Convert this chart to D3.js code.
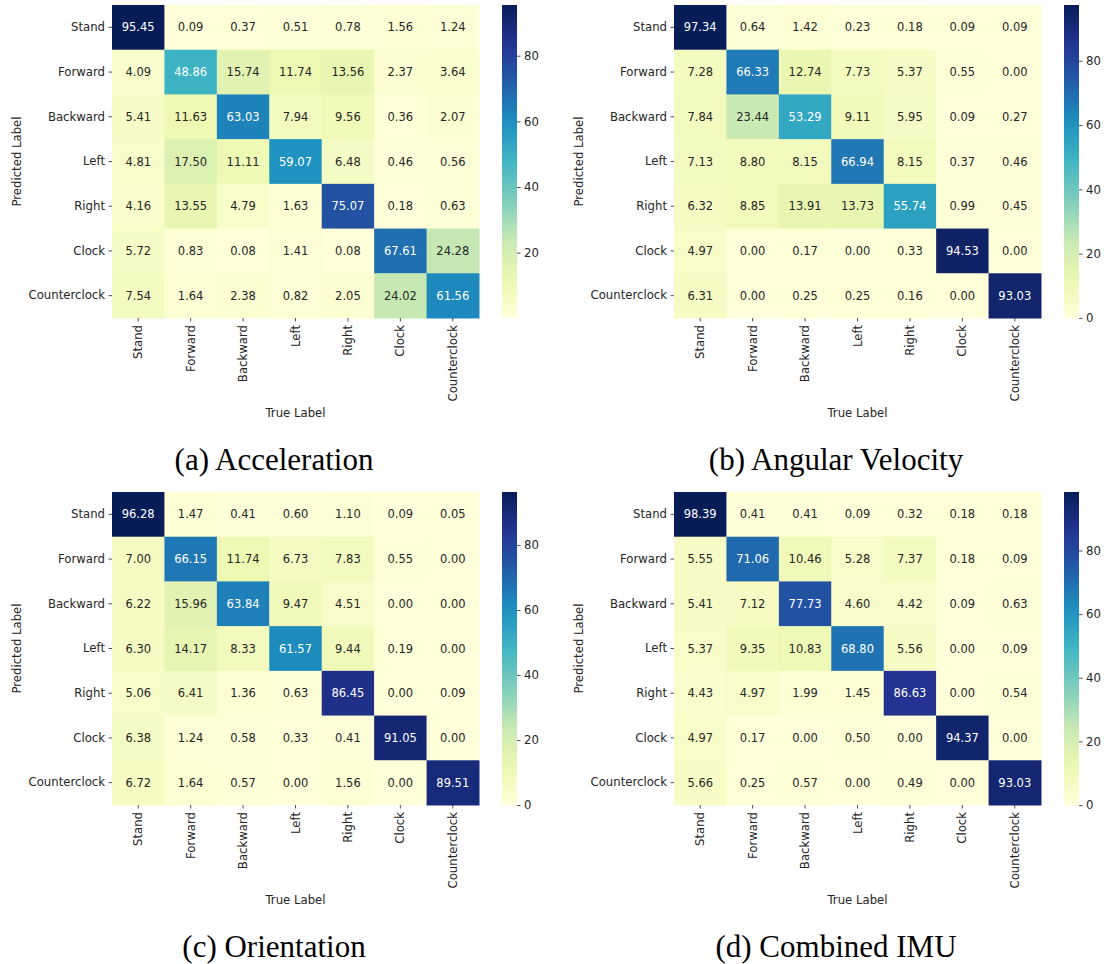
<!DOCTYPE html>
<html>
<head>
<meta charset="utf-8">
<script src="https://cdn.jsdelivr.net/npm/d3@7"></script>
<style>
  body { margin: 0; background: #fff; }
  text { font-family: "DejaVu Sans", sans-serif; fill: #262626; }
  .caption { font-family: "Liberation Serif", "DejaVu Serif", serif; fill: #000; }
</style>
</head>
<body>
<svg width="1107" height="964"></svg>
<script>
var width = 1107,
    height = 964;

// class names (rows = predicted, cols = true)
var classes = ["Stand", "Forward", "Backward", "Left", "Right", "Clock", "Counterclock"];

var accel = [
    [95.45, 0.09, 0.37, 0.51, 0.78, 1.56, 1.24],
    [4.09, 48.86, 15.74, 11.74, 13.56, 2.37, 3.64],
    [5.41, 11.63, 63.03, 7.94, 9.56, 0.36, 2.07],
    [4.81, 17.50, 11.11, 59.07, 6.48, 0.46, 0.56],
    [4.16, 13.55, 4.79, 1.63, 75.07, 0.18, 0.63],
    [5.72, 0.83, 0.08, 1.41, 0.08, 67.61, 24.28],
    [7.54, 1.64, 2.38, 0.82, 2.05, 24.02, 61.56]
];

var angular = [
    [97.34, 0.64, 1.42, 0.23, 0.18, 0.09, 0.09],
    [7.28, 66.33, 12.74, 7.73, 5.37, 0.55, 0.00],
    [7.84, 23.44, 53.29, 9.11, 5.95, 0.09, 0.27],
    [7.13, 8.80, 8.15, 66.94, 8.15, 0.37, 0.46],
    [6.32, 8.85, 13.91, 13.73, 55.74, 0.99, 0.45],
    [4.97, 0.00, 0.17, 0.00, 0.33, 94.53, 0.00],
    [6.31, 0.00, 0.25, 0.25, 0.16, 0.00, 93.03]
];

var orient = [
    [96.28, 1.47, 0.41, 0.60, 1.10, 0.09, 0.05],
    [7.00, 66.15, 11.74, 6.73, 7.83, 0.55, 0.00],
    [6.22, 15.96, 63.84, 9.47, 4.51, 0.00, 0.00],
    [6.30, 14.17, 8.33, 61.57, 9.44, 0.19, 0.00],
    [5.06, 6.41, 1.36, 0.63, 86.45, 0.00, 0.09],
    [6.38, 1.24, 0.58, 0.33, 0.41, 91.05, 0.00],
    [6.72, 1.64, 0.57, 0.00, 1.56, 0.00, 89.51]
];

var combined = [
    [98.39, 0.41, 0.41, 0.09, 0.32, 0.18, 0.18],
    [5.55, 71.06, 10.46, 5.28, 7.37, 0.18, 0.09],
    [5.41, 7.12, 77.73, 4.60, 4.42, 0.09, 0.63],
    [5.37, 9.35, 10.83, 68.80, 5.56, 0.00, 0.09],
    [4.43, 4.97, 1.99, 1.45, 86.63, 0.00, 0.54],
    [4.97, 0.17, 0.00, 0.50, 0.00, 94.37, 0.00],
    [5.66, 0.25, 0.57, 0.00, 0.49, 0.00, 93.03]
];

var captions = ["(a) Acceleration", "(b) Angular Velocity", "(c) Orientation", "(d) Combined IMU"];
var colorTicks = [0, 20, 40, 60, 80];

// matplotlib YlGnBu (linear between colorbrewer stops)
var ylgnbu = ["#ffffd9", "#edf8b1", "#c7e9b4", "#7fcdbb", "#41b6c4", "#1d91c0", "#225ea8", "#253494", "#081d58"];

var svg = d3.select("svg");

var panels = [
    {data: accel, dx: 0, dy: 0},
    {data: angular, dx: 562, dy: 0},
    {data: orient, dx: 0, dy: 487},
    {data: combined, dx: 562, dy: 487}
];

panels.forEach(function (p, i) {
    drawPanel(p.data, p.dx, p.dy, captions[i], i);
});

function drawPanel(matrix, dx, dy, caption, idx) {
    var g = svg.append("g").attr("transform", "translate(" + dx + "," + dy + ")");

    var left = 112, right = 479, top = 5, bottom = 318;

    var x = d3.scaleBand().domain(classes).range([left, right]);
    var y = d3.scaleBand().domain(classes).range([top, bottom]);

    var flat = d3.merge(matrix);
    var vmin = d3.min(flat), vmax = d3.max(flat);
    var t = d3.scaleLinear().domain([vmin, vmax]).range([0, 1]);
    var cmap = d3.scaleLinear()
        .domain(d3.range(ylgnbu.length).map(function (k) { return k / (ylgnbu.length - 1); }))
        .range(ylgnbu)
        .interpolate(d3.interpolateRgb);
    var color = function (v) { return cmap(t(v)); };

    var cells = [];
    matrix.forEach(function (row, r) {
        row.forEach(function (v, c) {
            cells.push({row: classes[r], col: classes[c], value: v});
        });
    });

    g.append("g")
        .selectAll("rect")
        .data(cells)
        .enter().append("rect")
        .attr("x", function (d) { return x(d.col); })
        .attr("y", function (d) { return y(d.row); })
        .attr("width", x.bandwidth() + 0.5)
        .attr("height", y.bandwidth() + 0.5)
        .style("fill", function (d) { return color(d.value); });

    g.append("g")
        .selectAll("text")
        .data(cells)
        .enter().append("text")
        .attr("x", function (d) { return x(d.col) + x.bandwidth() / 2; })
        .attr("y", function (d) { return y(d.row) + y.bandwidth() / 2; })
        .attr("text-anchor", "middle")
        .attr("dy", "0.35em")
        .style("font-size", "11.5px")
        .style("fill", function (d) {
            var c = d3.rgb(color(d.value));
            var lum = relLum(c);
            return lum > 0.408 ? "#262626" : "#ffffff";
        })
        .text(function (d) { return d.value.toFixed(2); });

    // axes
    var yAxis = g.append("g")
        .attr("transform", "translate(" + left + ",0)")
        .call(d3.axisLeft(y).tickSize(3.5).tickPadding(3.5));
    var xAxis = g.append("g")
        .attr("transform", "translate(0," + bottom + ")")
        .call(d3.axisBottom(x).tickSize(3.5).tickPadding(3.5));
    [xAxis, yAxis].forEach(function (a) {
        a.select(".domain").remove();
        a.selectAll(".tick line").attr("stroke", "#262626").attr("stroke-width", 0.8);
        a.selectAll(".tick text").style("font-size", "11.7px").style("font-family", "DejaVu Sans").attr("fill", "#262626");
    });
    xAxis.selectAll(".tick text")
        .attr("transform", "rotate(-90)")
        .attr("text-anchor", "end")
        .attr("x", -7)
        .attr("y", 0)
        .attr("dy", "0.35em");

    g.append("text")
        .attr("transform", "translate(17," + ((top + bottom) / 2) + ") rotate(-90)")
        .attr("text-anchor", "middle")
        .attr("dy", "0.35em")
        .style("font-size", "11.7px")
        .text("Predicted Label");

    g.append("text")
        .attr("x", (left + right) / 2)
        .attr("y", 413)
        .attr("text-anchor", "middle")
        .attr("dy", "0.35em")
        .style("font-size", "11.7px")
        .text("True Label");

    // colorbar
    var cbx = 502, cbw = 15;
    var gid = "grad" + idx;
    var grad = svg.append("defs").append("linearGradient")
        .attr("id", gid)
        .attr("x1", 0).attr("y1", 1).attr("x2", 0).attr("y2", 0);
    d3.range(0, 1.0001, 0.05).forEach(function (s) {
        grad.append("stop").attr("offset", s).attr("stop-color", cmap(s));
    });
    g.append("rect")
        .attr("x", cbx).attr("y", top)
        .attr("width", cbw).attr("height", bottom - top)
        .style("fill", "url(#" + gid + ")");

    var cy = d3.scaleLinear().domain([vmin, vmax]).range([bottom, top]);
    var cAxis = g.append("g")
        .attr("transform", "translate(" + (cbx + cbw) + ",0)")
        .call(d3.axisRight(cy)
            .tickValues(colorTicks.filter(function (v) { return v >= vmin && v <= vmax; }))
            .tickFormat(d3.format("d"))
            .tickSize(3.5).tickPadding(3.5));
    cAxis.select(".domain").remove();
    cAxis.selectAll(".tick line").attr("stroke", "#262626").attr("stroke-width", 0.8);
    cAxis.selectAll(".tick text").style("font-size", "11.7px").style("font-family", "DejaVu Sans").attr("fill", "#262626");

    g.append("text")
        .attr("class", "caption")
        .attr("x", 274)
        .attr("y", 470)
        .attr("text-anchor", "middle")
        .style("font-size", "31px")
        .text(caption);
}

function relLum(c) {
    var f = function (v) {
        v = v / 255;
        return v <= 0.03928 ? v / 12.92 : Math.pow((v + 0.055) / 1.055, 2.4);
    };
    return 0.2126 * f(c.r) + 0.7152 * f(c.g) + 0.0722 * f(c.b);
}
</script>
</body>
</html>
